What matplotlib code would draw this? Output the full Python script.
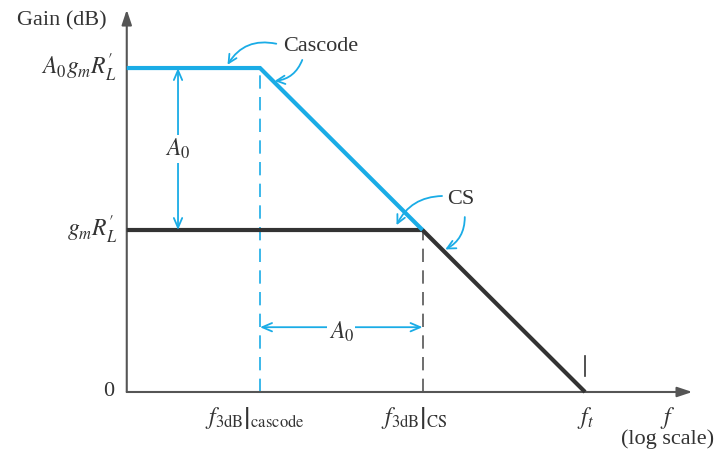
import matplotlib.pyplot as plt
import matplotlib as mpl

mpl.rcParams['mathtext.fontset'] = 'stix'
mpl.rcParams['font.family'] = ['Liberation Serif', 'DejaVu Serif']

# Bode sketch: x in decades (log f), y in units of A0 (dB)
f_start = 0.18
f_cascode = 1.0
f_cs = 2.0
f_t = 3.0
g_cs = 1.0
g_cascode = 2.0

cs_f = [f_start, f_cs, f_t]
cs_gain = [g_cs, g_cs, 0.0]
cascode_f = [f_start, f_cascode, f_cs]
cascode_gain = [g_cascode, g_cascode, g_cs]

ytick_labels = [r"$A_0 g_m R_L^{\prime}$", r"$g_m R_L^{\prime}$", "0"]
xtick_labels = [r"$\left.f_{\mathrm{3dB}}\right|_{\mathrm{cascode}}$",
                r"$\left.f_{\mathrm{3dB}}\right|_{\mathrm{CS}}$",
                r"$f_t$"]

blue = '#1aace6'
dark = '#333333'
grey = '#555555'

fig = plt.figure(figsize=(7.24, 4.55), dpi=100)
ax = fig.add_axes([0, 0, 1, 1])
ax.set_xlim(-0.6, 3.855)
ax.set_ylim(-0.389, 2.42)
ax.axis('off')

# axes with arrows
ax.annotate('', xy=(f_start, 2.36), xytext=(f_start, 0),
            arrowprops=dict(arrowstyle='-|>,head_length=0.9,head_width=0.3', color=grey, lw=1.5,
                            shrinkA=0, shrinkB=0))
ax.annotate('', xy=(3.66, 0), xytext=(f_start, 0),
            arrowprops=dict(arrowstyle='-|>,head_length=0.9,head_width=0.3', color=grey, lw=1.5,
                            shrinkA=0, shrinkB=0))

# dashed drop lines
ax.plot([f_cascode, f_cascode], [0, g_cascode], color=blue, lw=1.2, ls=(0, (8, 5)))
ax.plot([f_cs, f_cs], [0, g_cs], color=grey, lw=1.2, ls=(0, (8, 5)))
ax.plot([f_t, f_t], [0.1, 0.22], color=dark, lw=1.2)

# responses
ax.plot(cs_f, cs_gain, color=dark, lw=3, solid_capstyle='butt', solid_joinstyle='miter', zorder=3)
ax.plot(cascode_f, cascode_gain, color=blue, lw=3, solid_capstyle='butt', solid_joinstyle='miter', zorder=4)

# A0 dimension arrows
xa = (178 - 260) / 162.5 + 1
ax.annotate('', xy=(xa, g_cascode), xytext=(xa, g_cs),
            arrowprops=dict(arrowstyle='<->,head_length=0.7,head_width=0.3', color=blue, lw=1.3,
                            shrinkA=0, shrinkB=0))
ax.text(xa, 1.5, r'$A_0$', fontsize=17, color=dark, ha='center', va='center',
        bbox=dict(facecolor='white', edgecolor='none', pad=1))
ya = 0.4
ax.annotate('', xy=(f_cascode, ya), xytext=(f_cs, ya),
            arrowprops=dict(arrowstyle='<->,head_length=0.7,head_width=0.3', color=blue, lw=1.3,
                            shrinkA=0, shrinkB=0))
ax.text(1.5, ya - 0.03, r'$A_0$', fontsize=17, color=dark, ha='center', va='center',
        bbox=dict(facecolor='white', edgecolor='none', pad=1))

# labels
ax.text(-0.22, 2.29, 'Gain (dB)', fontsize=16, color=dark, ha='center', va='center')
ax.text(0.12, g_cascode, ytick_labels[0], fontsize=17, color=dark, ha='right', va='center')
ax.text(0.12, g_cs, ytick_labels[1], fontsize=17, color=dark, ha='right', va='center')
ax.text(0.10, 0, ytick_labels[2], fontsize=16, color=dark, ha='right', va='center')
ax.text(0.97, -0.16, xtick_labels[0], fontsize=17, color=dark, ha='center', va='center')
ax.text(1.95, -0.16, xtick_labels[1], fontsize=17, color=dark, ha='center', va='center')
ax.text(f_t, -0.16, xtick_labels[2], fontsize=17, color=dark, ha='center', va='center')
ax.text(3.51, -0.16, r'$f$', fontsize=17, color=dark, ha='center', va='center')
ax.text(3.51, -0.29, '(log scale)', fontsize=16, color=dark, ha='center', va='center')

# callouts
ax.text(1.14, 2.13, 'Cascode', fontsize=16, color=dark, ha='left', va='center')
ax.annotate('', xy=(0.8, 2.02), xytext=(1.1, 2.15),
            arrowprops=dict(arrowstyle='->,head_length=0.6,head_width=0.3', color=blue, lw=1.3,
                            connectionstyle='arc3,rad=0.35', shrinkA=0, shrinkB=0))
ax.annotate('', xy=(1.09, 1.92), xytext=(1.26, 2.05),
            arrowprops=dict(arrowstyle='->,head_length=0.6,head_width=0.3', color=blue, lw=1.3,
                            connectionstyle='arc3,rad=-0.3', shrinkA=0, shrinkB=0))
ax.text(2.15, 1.19, 'CS', fontsize=16, color=dark, ha='left', va='center')
ax.annotate('', xy=(1.84, 1.03), xytext=(2.12, 1.21),
            arrowprops=dict(arrowstyle='->,head_length=0.6,head_width=0.3', color=blue, lw=1.3,
                            connectionstyle='arc3,rad=0.3', shrinkA=0, shrinkB=0))
ax.annotate('', xy=(2.14, 0.88), xytext=(2.26, 1.08),
            arrowprops=dict(arrowstyle='->,head_length=0.6,head_width=0.3', color=blue, lw=1.3,
                            connectionstyle='arc3,rad=-0.3', shrinkA=0, shrinkB=0))

fig.savefig('out.png', dpi=100)
